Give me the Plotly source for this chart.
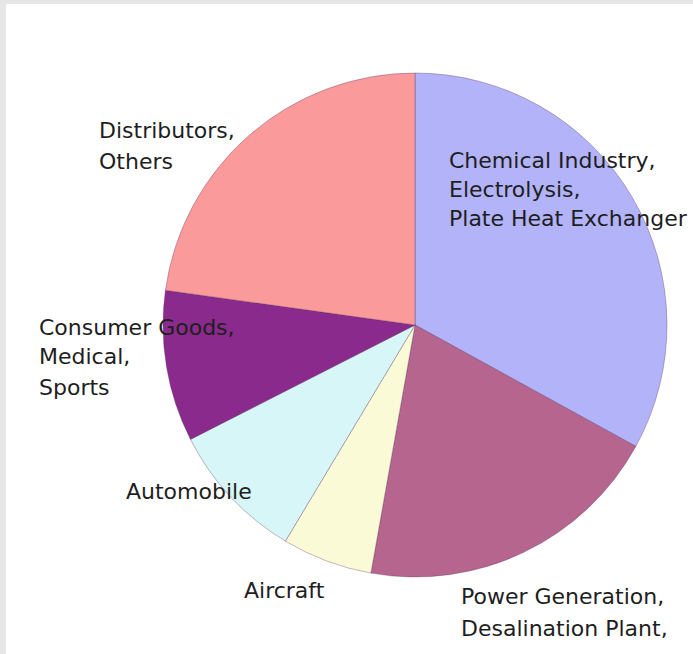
import plotly.graph_objects as go

categories = ["Chemical Industry, Electrolysis, Plate Heat Exchanger",
              "Power Generation, Desalination Plant",
              "Aircraft", "Automobile",
              "Consumer Goods, Medical, Sports",
              "Distributors, Others"]
shares = [33.0, 19.8, 5.8, 8.9, 9.7, 22.8]
colors = ["#b3b3f9", "#b6658f", "#fafad6", "#d6f6f8", "#8a2a8c", "#fb9a9a"]

label_lines = [
    ["Chemical Industry,", "Electrolysis,", "Plate Heat Exchanger"],
    ["Power Generation,", "Desalination Plant,"],
    ["Aircraft"],
    ["Automobile"],
    ["Consumer Goods,", "Medical,", "Sports"],
    ["Distributors,", "Others"],
]
# label anchor (left x, first-line center y, line step) in pixels
label_pos = [(447, 160, 29), (459, 596, 32), (242, 590, 30), (124, 492, 30),
             (37, 327, 30), (97, 131, 30)]

W, H = 693, 654
cx, cy, r = 415, 325, 252

fig = go.Figure(go.Pie(
    labels=categories, values=shares, sort=False, direction="clockwise",
    rotation=0, textinfo="none", hoverinfo="label+percent",
    marker=dict(colors=colors, line=dict(color="rgba(90,50,90,0.35)", width=1)),
    domain=dict(x=[(cx - r) / W, (cx + r) / W], y=[(H - cy - r) / H, (H - cy + r) / H]),
    showlegend=False,
))

anns = []
for lines, (lx, ly, step) in zip(label_lines, label_pos):
    for i, t in enumerate(lines):
        anns.append(dict(x=lx / W, y=(H - (ly + i * step)) / H, xref="paper", yref="paper",
                         text=t, showarrow=False, xanchor="left", yanchor="middle",
                         font=dict(family="DejaVu Sans", size=22, color="#1e1e1e")))

fig.update_layout(
    width=W, height=H, margin=dict(l=0, r=0, t=0, b=0),
    paper_bgcolor="white", plot_bgcolor="white",
    annotations=anns,
    shapes=[
        dict(type="rect", xref="paper", yref="paper", x0=0, x1=6 / W, y0=0, y1=1,
             fillcolor="#e6e6e6", line_width=0, layer="below"),
        dict(type="rect", xref="paper", yref="paper", x0=0, x1=1, y0=1 - 4 / H, y1=1,
             fillcolor="#e6e6e6", line_width=0, layer="below"),
    ],
)

fig.write_html("out.html")
